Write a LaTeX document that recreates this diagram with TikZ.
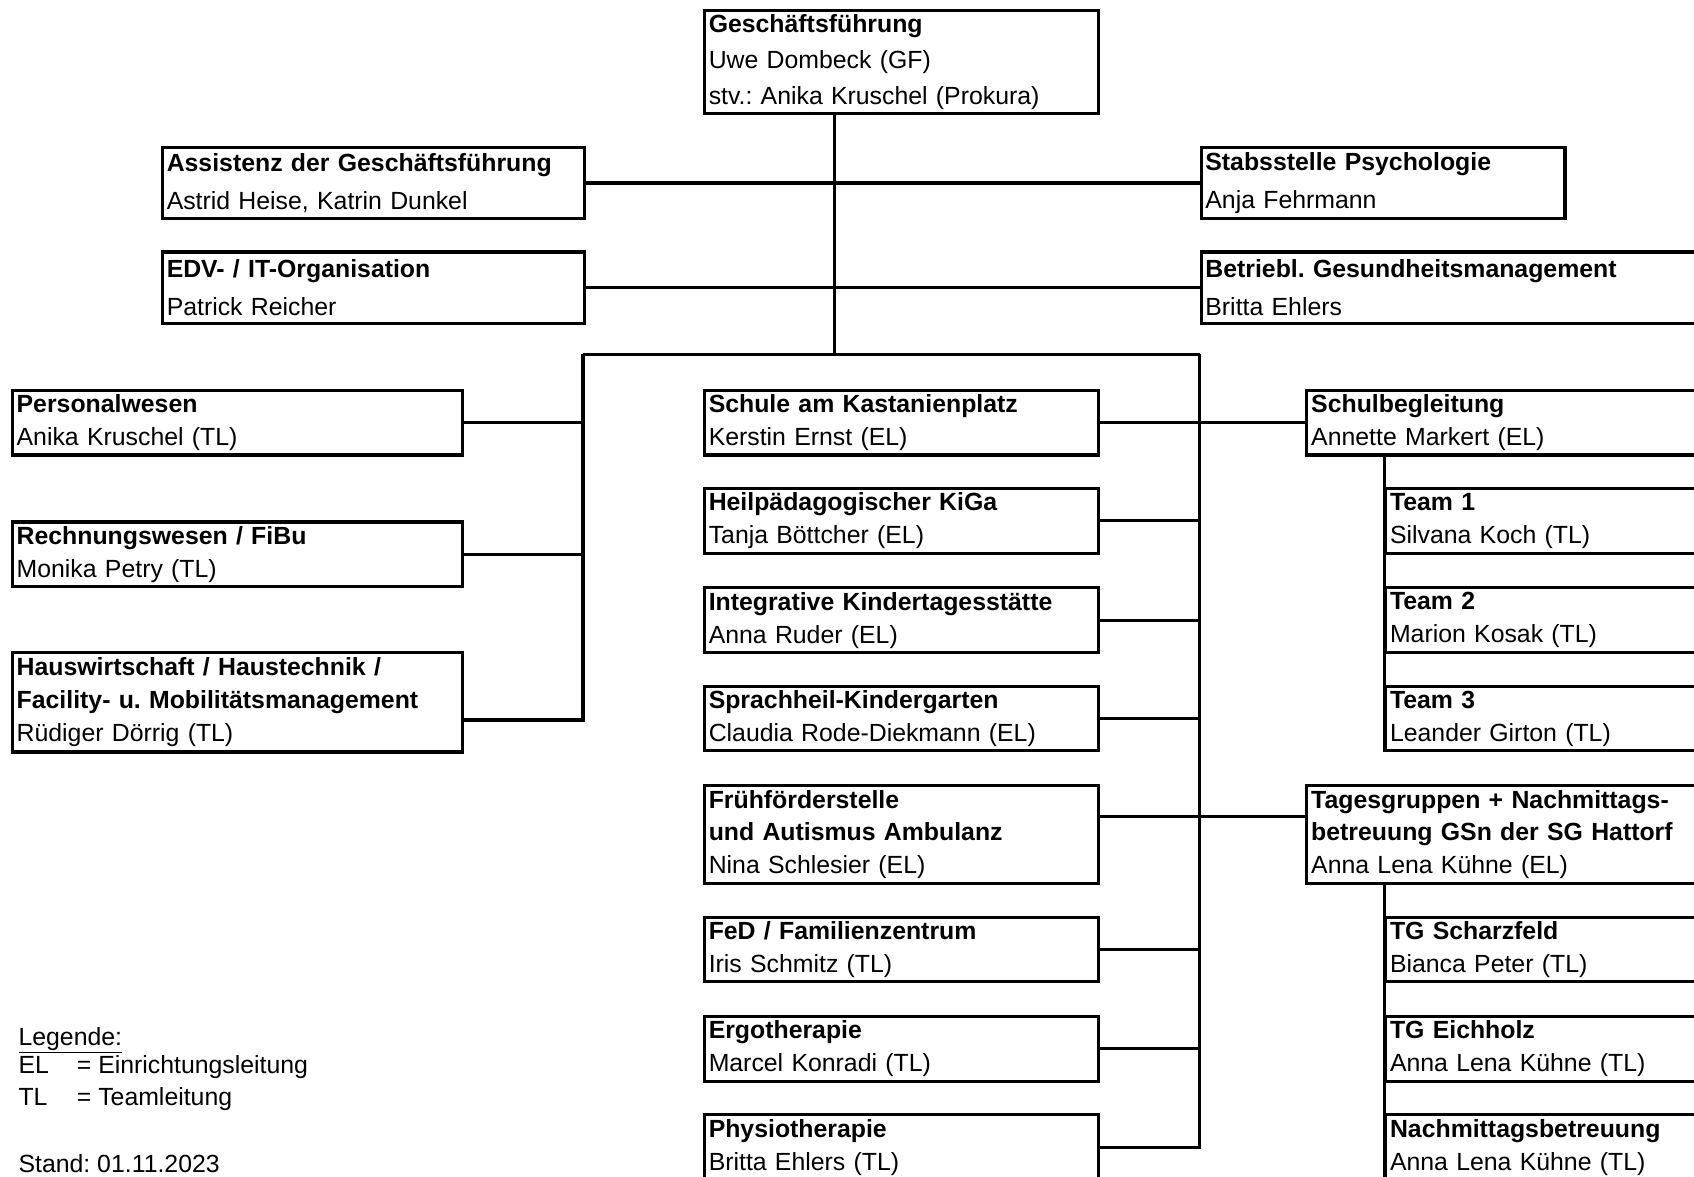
\documentclass[tikz,border=0pt]{standalone}
\usepackage{fontspec}
\setmainfont{Liberation Sans}
\frenchspacing
\newcommand\chartfont{\fontsize{23}{30.5}\selectfont}

\begin{document}
\begin{tikzpicture}
	[x=1pt,y=-1pt,
	box/.style={draw,line width=2.9pt,anchor=north west,align=left,inner xsep=4pt,inner ysep=0pt,minimum height=60pt,font=\chartfont},
	topbox/.style={box,text width=357pt,minimum height=96pt,font=\fontsize{23}{33}\selectfont},
	staffbox/.style={box,text width=383pt,minimum height=66pt,font=\fontsize{23}{35}\selectfont},
	leftbox/.style={box,text width=409pt},
	midbox/.style={box,text width=357pt},
	rightbox/.style={box,text width=400pt},
	subbox/.style={box,text width=350pt},
	legend/.style={anchor=west,inner sep=0pt,font=\chartfont},
	link/.style={line width=2.9pt}]

	\useasboundingbox (0,0) rectangle (1569,1090);
	\clip (0,0) rectangle (1569,1090);

	\node[topbox] (gf) at (651,8) {\textbf{Geschäftsführung}\\Uwe Dombeck (GF)\\stv.: Anika Kruschel (Prokura)};

	\node[staffbox] (asst) at (149,135) {\textbf{Assistenz der Geschäftsführung}\\Astrid Heise, Katrin Dunkel};
	\node[staffbox,text width=329pt] (stab) at (1111,135) {\textbf{Stabsstelle Psychologie}\\Anja Fehrmann};
	\node[staffbox] (edv) at (149,232) {\textbf{EDV- / IT-Organisation}\\Patrick Reicher};
	\node[staffbox,text width=492pt] (bgm) at (1111,232) {\textbf{Betriebl. Gesundheitsmanagement}\\Britta Ehlers};

	\node[leftbox] (pers) at (10,360) {\textbf{Personalwesen}\\Anika Kruschel (TL)};
	\node[leftbox] (rech) at (10,482) {\textbf{Rechnungswesen / FiBu}\\Monika Petry (TL)};
	\node[leftbox,minimum height=92pt] (haus) at (10,603) {\textbf{Hauswirtschaft / Haustechnik /}\\\textbf{Facility- u. Mobilitätsmanagement}\\Rüdiger Dörrig (TL)};

	\node[midbox] (schule) at (651,360) {\textbf{Schule am Kastanienplatz}\\Kerstin Ernst (EL)};
	\node[midbox] (heil) at (651,451) {\textbf{Heilpädagogischer KiGa}\\Tanja Böttcher (EL)};
	\node[midbox] (integ) at (651,543) {\textbf{Integrative Kindertagesstätte}\\Anna Ruder (EL)};
	\node[midbox] (sprach) at (651,634) {\textbf{Sprachheil-Kindergarten}\\Claudia Rode-Diekmann (EL)};
	\node[midbox,minimum height=91pt] (frueh) at (651,726) {\textbf{Frühförderstelle}\\\textbf{und Autismus Ambulanz}\\Nina Schlesier (EL)};
	\node[midbox] (fed) at (651,848) {\textbf{FeD / Familienzentrum}\\Iris Schmitz (TL)};
	\node[midbox] (ergo) at (651,940) {\textbf{Ergotherapie}\\Marcel Konradi (TL)};
	\node[midbox] (physio) at (651,1031) {\textbf{Physiotherapie}\\Britta Ehlers (TL)};

	\node[rightbox] (sbeg) at (1209,360) {\textbf{Schulbegleitung}\\Annette Markert (EL)};
	\node[subbox] (team1) at (1282,451) {\textbf{Team 1}\\Silvana Koch (TL)};
	\node[subbox] (team2) at (1282,543) {\textbf{Team 2}\\Marion Kosak (TL)};
	\node[subbox] (team3) at (1282,634) {\textbf{Team 3}\\Leander Girton (TL)};

	\node[rightbox,minimum height=91pt] (tgr) at (1209,726) {\textbf{Tagesgruppen + Nachmittags-}\\\textbf{betreuung GSn der SG Hattorf}\\Anna Lena Kühne (EL)};
	\node[subbox] (tgs) at (1282,848) {\textbf{TG Scharzfeld}\\Bianca Peter (TL)};
	\node[subbox] (tge) at (1282,940) {\textbf{TG Eichholz}\\Anna Lena Kühne (TL)};
	\node[subbox] (nmb) at (1282,1031) {\textbf{Nachmittagsbetreuung}\\Anna Lena Kühne (TL)};

	\node[legend] (legtitle) at (17,963) {\underline{Legende:}};
	\node[legend] (legel) at (17,988) {\makebox[54pt][l]{EL}= Einrichtungsleitung};
	\node[legend] (legtl) at (17,1018) {\makebox[54pt][l]{TL}= Teamleitung};
	\node[legend] (stand) at (17,1078) {Stand: 01.11.2023};

	\coordinate (hub) at (773,328);
	\coordinate (lbus) at (540,328);
	\coordinate (rbus) at (1111,328);

	\draw[link] (gf.south -| hub) -- (hub);
	\draw[link] (asst.east) -- (stab.west);
	\draw[link] (edv.east) -- (bgm.west);
	\draw[link] (lbus) -- (rbus);
	\draw[link] (pers.east) -- (pers.east -| lbus);
	\draw[link] (rech.east) -- (rech.east -| lbus);
	\draw[link] (lbus) |- ([yshift=31pt]haus.south east);
	\draw[link] (rbus) |- (physio.east);
	\draw[link] (schule.east) -- (sbeg.west);
	\draw[link] (heil.east) -- (heil.east -| rbus);
	\draw[link] (integ.east) -- (integ.east -| rbus);
	\draw[link] (sprach.east) -- (sprach.east -| rbus);
	\draw[link] ([yshift=-30pt]frueh.north east) -- ([yshift=-30pt]tgr.north west);
	\draw[link] (fed.east) -- (fed.east -| rbus);
	\draw[link] (ergo.east) -- (ergo.east -| rbus);
	\draw[link] (sbeg.south -| team1.west) -- (team3.south west);
	\draw[link] (tgr.south -| tgs.west) -- (nmb.south west);
\end{tikzpicture}
\end{document}
